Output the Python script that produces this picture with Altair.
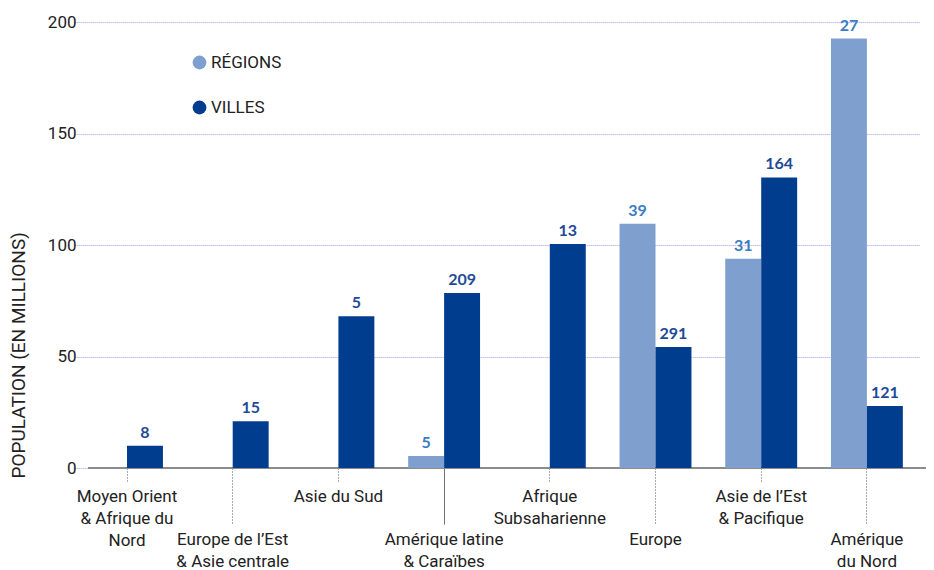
import altair as alt
import pandas as pd
import json

categories = [
    "Moyen Orient|& Afrique du|Nord",
    "Europe de l’Est|& Asie centrale",
    "Asie du Sud",
    "Amérique latine|& Caraïbes",
    "Afrique|Subsaharienne",
    "Europe",
    "Asie de l’Est|& Pacifique",
    "Amérique|du Nord",
]
lower_labels = [categories[1], categories[3], categories[5], categories[7]]

villes_pop = [10, 21, 68, 78.5, 100.5, 54.3, 130.3, 27.8]
villes_count = [8, 15, 5, 209, 13, 291, 164, 121]

regions_cats = ["Amérique latine|& Caraïbes", "Europe", "Asie de l’Est|& Pacifique", "Amérique|du Nord"]
regions_pop = [5.4, 109.5, 93.8, 192.6]
regions_count = [5, 39, 31, 27]

series = ["RÉGIONS", "VILLES"]
bar_colors = ["#7f9fcf", "#003d8f"]
label_colors = ["#3a7cc2", "#1e4a98"]

rows = []
for c, v, n in zip(regions_cats, regions_pop, regions_count):
    rows.append({"cat": c, "serie": series[0], "pop": v, "n": n})
for c, v, n in zip(categories, villes_pop, villes_count):
    rows.append({"cat": c, "serie": series[1], "pop": v, "n": n})
df = pd.DataFrame(rows)

W, H = 838, 446
step = 105.7
first_center = 39
r0 = first_center - step / 2
x_scale = alt.Scale(domain=categories, range=[r0, r0 + step * len(categories)], paddingInner=0, paddingOuter=0)
off_scale = alt.Scale(domain=series, paddingInner=0, paddingOuter=0.47)
y_scale = alt.Scale(domain=[0, 200])

low_list = json.dumps(lower_labels, ensure_ascii=False)
test_low = f"indexof({low_list}, datum.value) >= 0"
test_solid = "datum.value == " + json.dumps(categories[3], ensure_ascii=False)

x_axis = alt.Axis(
    title=None,
    domain=False,
    labelExpr="split(datum.label, '|')",
    labelAngle=0,
    labelAlign="center",
    labelBaseline="top",
    labelFont="Roboto",
    labelFontSize=17,
    labelColor="#222222",
    labelLineHeight=22,
    labelPadding={"condition": {"test": test_low, "value": 7}, "value": 6},
    tickSize={"condition": {"test": test_low, "value": 56}, "value": 14},
    tickColor={"condition": {"test": test_solid, "value": "#444444"}, "value": "#555555"},
    tickWidth=1,
    tickDash={"condition": {"test": test_solid, "value": [1, 0]}, "value": [1, 2]},
    grid=False,
)

y_axis = alt.Axis(
    title="POPULATION (EN MILLIONS)",
    titleFont="Roboto",
    titleFontSize=19,
    titleFontWeight="normal",
    titleColor="#222222",
    titleAnchor="start",
    titleAlign="left",
    titleY=H + 10,
    titlePadding=19,
    values=[0, 50, 100, 150, 200],
    labelFont="Roboto",
    labelFontSize=17,
    labelColor="#222222",
    labelPadding=12,
    ticks=False,
    domain=False,
    grid=True,
    gridColor="#a99ce8",
    gridDash=[1, 1],
    gridWidth=1,
)

base = alt.Chart(df)

zero = alt.Chart(pd.DataFrame({"z": [0]})).mark_rule(color="#8c8c8c", strokeWidth=2).encode(
    y=alt.Y("z:Q", scale=y_scale, axis=y_axis)
)

bars = base.mark_bar().encode(
    x=alt.X("cat:N", scale=x_scale, axis=x_axis, sort=categories),
    xOffset=alt.XOffset("serie:N", scale=off_scale),
    y=alt.Y("pop:Q", scale=y_scale, axis=y_axis),
    color=alt.Color(
        "serie:N",
        scale=alt.Scale(domain=series, range=bar_colors),
        legend=alt.Legend(
            title=None,
            orient="none",
            legendX=103,
            legendY=32,
            symbolType="circle",
            symbolSize=190,
            symbolStrokeWidth=0,
            labelFont="Roboto",
            labelFontSize=17,
            labelColor="#222222",
            labelOffset=3,
            rowPadding=27,
            padding=0,
        ),
    ),
)

labels = base.mark_text(font="Lato", fontSize=16, fontWeight="bold", baseline="alphabetic", dy=-8).encode(
    x=alt.X("cat:N", scale=x_scale, sort=categories),
    xOffset=alt.XOffset("serie:N", scale=off_scale),
    y=alt.Y("pop:Q", scale=y_scale),
    text="n:Q",
    color=alt.condition(alt.datum.serie == series[0], alt.value(label_colors[0]), alt.value(label_colors[1])),
)

chart = alt.layer(zero, bars, labels).properties(
    width=W, height=H,
    autosize=alt.AutoSizeParams(type="none"),
    padding={"left": 80, "top": 14, "right": 0, "bottom": 102},
).configure_view(stroke=None)

chart.save("out.html", embed_options={"renderer": "svg", "actions": False})
